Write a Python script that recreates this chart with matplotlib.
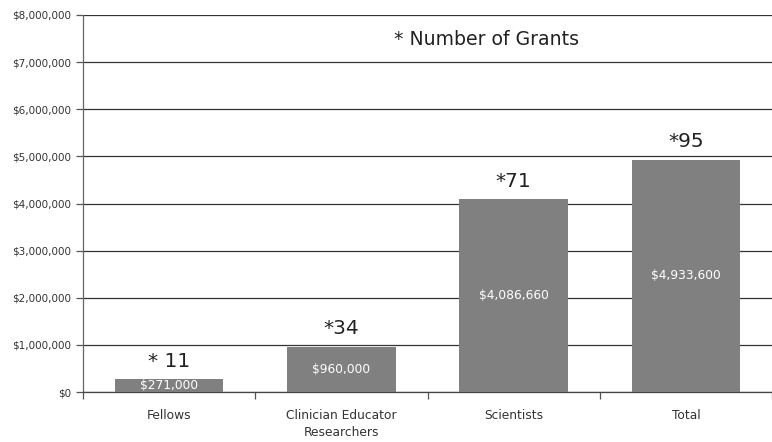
import matplotlib
matplotlib.use("Agg")
import matplotlib.pyplot as plt
from matplotlib.ticker import FuncFormatter, FixedLocator

categories = ["Fellows", "Clinician Educator\nResearchers", "Scientists", "Total"]
amounts = [271000, 960000, 4086660, 4933600]
amount_labels = ["$271,000", "$960,000", "$4,086,660", "$4,933,600"]
grant_labels = ["* 11", "*34", "*71", "*95"]
note_text = "* Number of Grants"

plt.rcParams['font.family'] = ['DejaVu Sans']
fig = plt.figure(figsize=(7.72, 4.42), dpi=100)
ax = fig.add_axes([83/772, 50/442, 1 - 83/772, 377/442])

x = list(range(len(categories)))
bars = ax.bar(x, amounts, width=0.63, color="#808080", zorder=3)

ax.set_xlim(-0.5, len(categories) - 0.5)
ax.set_ylim(0, 8000000)
ax.set_yticks(range(0, 8000001, 1000000))
ax.yaxis.set_major_formatter(FuncFormatter(lambda v, p: "${:,.0f}".format(v)))
ax.grid(axis="y", color="#333333", linewidth=0.9, zorder=1)

ax.set_xticks(x)
ax.set_xticklabels(categories, fontsize=8.8, color="#333333", linespacing=1.45)
ax.xaxis.set_minor_locator(FixedLocator([i - 0.5 for i in range(len(categories) + 1)]))
ax.tick_params(axis="x", which="major", length=0, pad=12)
ax.tick_params(axis="x", which="minor", length=5, color="#555555", width=0.9)
ax.tick_params(axis="y", labelsize=7.5, labelcolor="#333333", length=5, color="#555555", width=0.9)

for s in ["top", "right"]:
    ax.spines[s].set_visible(False)
ax.spines["left"].set_color("#666666")
ax.spines["left"].set_linewidth(0.9)
ax.spines["bottom"].set_color("#444444")
ax.spines["bottom"].set_linewidth(0.9)

for xi, val, lab, g in zip(x, amounts, amount_labels, grant_labels):
    ax.text(xi, val / 2, lab, ha="center", va="center", color="white", fontsize=8.8, zorder=4)
    ax.annotate(g, (xi, val), xytext=(0, 6), textcoords="offset points",
                ha="center", va="bottom", fontsize=14.5, color="#222222", zorder=4)

ax.text(0.585, 0.935, note_text, transform=ax.transAxes, ha="center", va="center",
        fontsize=13.6, color="#222222")

fig.savefig("out.png", dpi=100)
